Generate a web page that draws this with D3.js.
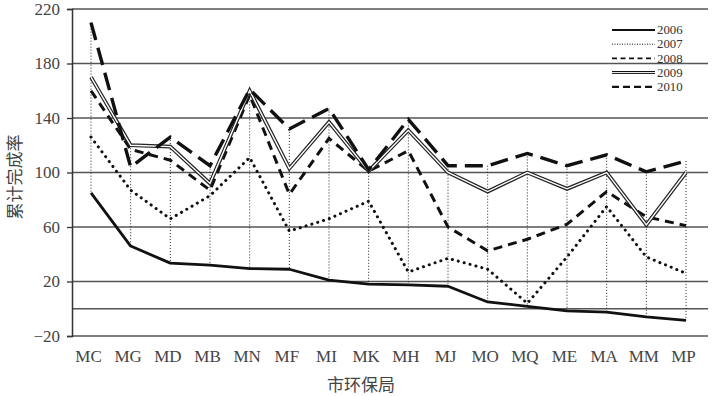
<!DOCTYPE html>
<html>
<head>
<meta charset="utf-8">
<script src="https://cdn.jsdelivr.net/npm/d3@7"></script>
<style>
  body { margin: 0; background: #fff; }
  .tick-label { font-family: "Liberation Serif", "DejaVu Serif", serif; font-size: 17px; fill: #444; }
  .legend-label { font-family: "Liberation Serif", "DejaVu Serif", serif; font-size: 12.8px; fill: #333; }
  .cjk { font-family: "Noto Sans CJK SC", sans-serif; font-size: 17px; fill: #444; }
</style>
</head>
<body>
<div class="chart"></div>
<script>
const categories = ["MC", "MG", "MD", "MB", "MN", "MF", "MI", "MK", "MH", "MJ", "MO", "MQ", "ME", "MA", "MM", "MP"];
const years = ["2006", "2007", "2008", "2009", "2010"];
const v2006 = [85, 46, 33.5, 32, 29.5, 29, 21, 18, 17.5, 16.5, 5, 1.8, -1.5, -2.5, -6, -8.5];
const v2007 = [126, 87, 66, 83, 111, 57, 66, 79, 27, 37, 29, 4, 38, 75, 38, 26];
const v2008 = [160, 117, 109, 87, 157, 84, 125, 101, 116, 60, 42.5, 51, 62, 86, 67.5, 61];
const v2009 = [170, 120, 119, 92, 160, 103, 137, 101, 131, 100, 86, 100, 88, 100, 61.5, 100];
const v2010 = [210, 104, 126, 105, 161, 132, 147, 102, 139, 105, 105, 114, 105, 113, 100.5, 108.5];
const yTicks = [-20, 20, 60, 100, 140, 180, 220];
const gridValues = [-20, 0, 20, 60, 100, 140, 180, 220];

const seriesValues = [v2006, v2007, v2008, v2009, v2010];

const W = 723, H = 396;
const plotLeft = 72, plotRight = 708, plotTop = 9, plotBottom = 336;

const svg = d3.select(".chart").append("svg")
  .attr("width", W)
  .attr("height", H);

const x = d3.scalePoint()
  .domain(categories)
  .range([91, 686]);

const y = d3.scaleLinear()
  .domain([-20, 220])
  .range([plotBottom, plotTop]);

// horizontal gridlines
svg.append("g")
  .selectAll("line")
  .data(gridValues)
  .join("line")
  .attr("x1", plotLeft)
  .attr("x2", plotRight)
  .attr("y1", d => y(d))
  .attr("y2", d => y(d))
  .attr("stroke", "#555")
  .attr("stroke-width", 1.3);

// y axis
const yAxis = d3.axisLeft(y)
  .tickValues(yTicks)
  .tickSize(5)
  .tickPadding(7)
  .tickFormat(d => d < 0 ? "\u2212" + Math.abs(d) : d);

const gy = svg.append("g")
  .attr("transform", `translate(${plotLeft},0)`)
  .call(yAxis);
gy.select(".domain").attr("stroke", "#333").attr("stroke-width", 1.5);
gy.selectAll(".tick line").attr("stroke", "#333").attr("stroke-width", 1.3);
gy.selectAll(".tick text").attr("class", "tick-label").attr("font-family", null).attr("font-size", null);

// x labels
const xAxis = d3.axisBottom(x).tickSize(0).tickPadding(12);
const gx = svg.append("g")
  .attr("transform", `translate(-3,${plotBottom + 2})`)
  .call(xAxis);
gx.select(".domain").remove();
gx.selectAll(".tick text").attr("class", "tick-label").attr("font-family", null).attr("font-size", null);

// drop lines, max to min per category
svg.append("g")
  .selectAll("line")
  .data(categories)
  .join("line")
  .attr("x1", d => x(d))
  .attr("x2", d => x(d))
  .attr("y1", (d, i) => y(d3.max(seriesValues, s => s[i])))
  .attr("y2", (d, i) => y(d3.min(seriesValues, s => s[i])))
  .attr("stroke", "#222")
  .attr("stroke-width", 1)
  .attr("stroke-dasharray", "1 2");

const line = d3.line()
  .x((d, i) => x(categories[i]))
  .y(d => y(d));

const plot = svg.append("g");

// 2007 dotted
plot.append("path")
  .attr("d", line(v2007))
  .attr("fill", "none")
  .attr("stroke", "#111")
  .attr("stroke-width", 3)
  .attr("stroke-linecap", "round")
  .attr("stroke-dasharray", "0.1 6");

// 2008 short dash
plot.append("path")
  .attr("d", line(v2008))
  .attr("fill", "none")
  .attr("stroke", "#111")
  .attr("stroke-width", 3)
  .attr("stroke-dasharray", "9 6");

// 2009 double line
plot.append("path")
  .attr("d", line(v2009))
  .attr("fill", "none")
  .attr("stroke", "#222")
  .attr("stroke-width", 3.8);
plot.append("path")
  .attr("d", line(v2009))
  .attr("fill", "none")
  .attr("stroke", "#fff")
  .attr("stroke-width", 1.4);

// 2010 long dash
plot.append("path")
  .attr("d", line(v2010))
  .attr("fill", "none")
  .attr("stroke", "#111")
  .attr("stroke-width", 3.4)
  .attr("stroke-dasharray", "18 8");

// 2006 solid
plot.append("path")
  .attr("d", line(v2006))
  .attr("fill", "none")
  .attr("stroke", "#111")
  .attr("stroke-width", 2.8)
  .attr("stroke-linejoin", "round");

// legend
const legendStyles = [
  { w: 2.2, dash: null },
  { w: 1, dash: "1 1.5" },
  { w: 1.8, dash: "5 3.5" },
  { w: 2.4, dash: null, dbl: true },
  { w: 2.2, dash: "7 4" }
];
const legendY = [30, 44.2, 58.4, 72.6, 86.8];
const lg = svg.append("g");
years.forEach((yr, i) => {
  const st = legendStyles[i];
  lg.append("line")
    .attr("x1", 612).attr("x2", 655)
    .attr("y1", legendY[i]).attr("y2", legendY[i])
    .attr("stroke", "#111")
    .attr("stroke-width", st.dbl ? 3 : st.w)
    .attr("stroke-dasharray", st.dash);
  if (st.dbl) {
    lg.append("line")
      .attr("x1", 612).attr("x2", 655)
      .attr("y1", legendY[i]).attr("y2", legendY[i])
      .attr("stroke", "#fff")
      .attr("stroke-width", 1);
  }
  lg.append("text")
    .attr("class", "legend-label")
    .attr("x", 657)
    .attr("y", legendY[i] + 4.2)
    .text(yr);
});

// axis titles
svg.append("text")
  .attr("class", "cjk")
  .attr("transform", `translate(21,177) rotate(-90)`)
  .attr("text-anchor", "middle")
  .text("累计完成率");

svg.append("text")
  .attr("class", "cjk")
  .attr("x", 361)
  .attr("y", 391)
  .attr("text-anchor", "middle")
  .text("市环保局");
</script>
</body>
</html>
